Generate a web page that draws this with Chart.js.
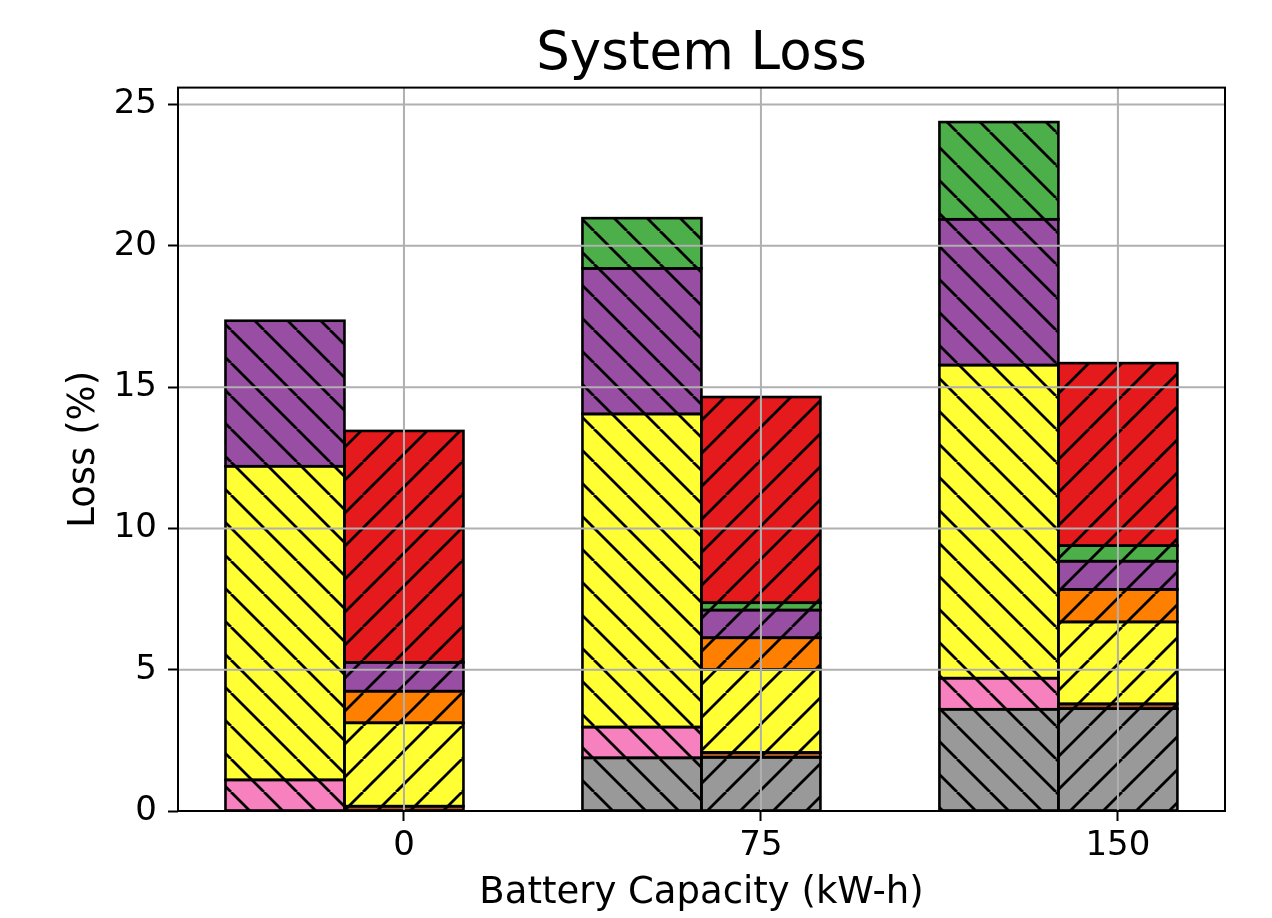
<!DOCTYPE html>
<html>
<head>
<meta charset="utf-8">
<title>System Loss</title>
<script src="https://cdn.jsdelivr.net/npm/chart.js@4/dist/chart.umd.min.js"></script>
<style>
  html, body { margin: 0; padding: 0; background: #fff; }
  canvas { display: block; }
</style>
</head>
<body>
<canvas id="lossChart" width="1272" height="918"></canvas>
<script>
// battery capacities on the x axis
const categories = ['0', '75', '150'];
const yTicks = [0, 5, 10, 15, 20, 25];

// left stack of each group (hatch "\")
const leftGray   = [0.00, 1.88, 3.60];
const leftPink   = [1.10, 1.09, 1.10];
const leftYellow = [11.10, 11.08, 11.08];
const leftPurple = [5.15, 5.15, 5.16];
const leftGreen  = [0.00, 1.78, 3.44];

// right stack of each group (hatch "/")
const rightGray   = [0.00, 1.90, 3.62];
const rightBrown  = [0.17, 0.17, 0.17];
const rightYellow = [2.95, 2.94, 2.90];
const rightOrange = [1.12, 1.12, 1.15];
const rightPurple = [1.02, 0.98, 1.00];
const rightGreen  = [0.00, 0.26, 0.55];
const rightRed    = [8.19, 7.28, 6.46];

const FONT = "'DejaVu Sans', sans-serif";

// matplotlib-like hatch fill
function hatch(color, dir) {
  const s = 33;
  const c = document.createElement('canvas');
  c.width = s; c.height = s;
  const g = c.getContext('2d');
  g.fillStyle = color;
  g.fillRect(0, 0, s, s);
  g.strokeStyle = '#000';
  g.lineWidth = 2.8;
  g.beginPath();
  for (let k = -1; k <= 1; k++) {
    if (dir === '/') { g.moveTo(k * s, s); g.lineTo(k * s + s, 0); }
    else { g.moveTo(k * s, 0); g.lineTo(k * s + s, s); }
  }
  g.stroke();
  return g.createPattern(c, 'repeat');
}

// group centre sits half a bar left of the tick so the right bar is centred on it
const barWidth = 1 / 3;
function points(values) {
  return values.map((v, i) => ({ x: i - barWidth / 2, y: v }));
}

function ds(label, values, color, stack) {
  return {
    label,
    data: points(values),
    stack,
    backgroundColor: hatch(color, stack === 'left' ? '\\' : '/'),
    borderWidth: 0,
    inflateAmount: 0
  };
}

const datasets = [
  ds('Gray', leftGray, '#999999', 'left'),
  ds('Pink', leftPink, '#f781bf', 'left'),
  ds('Yellow', leftYellow, '#ffff33', 'left'),
  ds('Purple', leftPurple, '#984ea3', 'left'),
  ds('Green', leftGreen, '#4daf4a', 'left'),
  ds('Gray', rightGray, '#999999', 'right'),
  ds('Brown', rightBrown, '#a65628', 'right'),
  ds('Yellow', rightYellow, '#ffff33', 'right'),
  ds('Orange', rightOrange, '#ff7f00', 'right'),
  ds('Purple', rightPurple, '#984ea3', 'right'),
  ds('Green', rightGreen, '#4daf4a', 'right'),
  ds('Red', rightRed, '#e41a1c', 'right')
];

// bar edges centred on the bar outline, grid on top, then the frame
const overlay = {
  id: 'overlay',
  afterDatasetsDraw(chart) {
    const { ctx, chartArea: a, scales: { x, y } } = chart;
    ctx.save();
    ctx.strokeStyle = '#000';
    ctx.lineWidth = 2.6;
    ctx.lineJoin = 'miter';
    chart.data.datasets.forEach((d, i) => {
      chart.getDatasetMeta(i).data.forEach(bar => {
        const p = bar.getProps(['x', 'y', 'base', 'width']);
        const h = Math.abs(p.base - p.y);
        if (h < 0.5) return;
        ctx.strokeRect(p.x - p.width / 2, Math.min(p.y, p.base), p.width, h);
      });
    });

    ctx.strokeStyle = '#b0b0b0';
    ctx.lineWidth = 2;
    ctx.beginPath();
    x.ticks.forEach(t => {
      const px = x.getPixelForValue(t.value);
      ctx.moveTo(px, a.top); ctx.lineTo(px, a.bottom);
    });
    y.ticks.forEach(t => {
      const py = y.getPixelForValue(t.value);
      ctx.moveTo(a.left, py); ctx.lineTo(a.right, py);
    });
    ctx.stroke();

    ctx.strokeStyle = '#000';
    ctx.lineWidth = 2;
    ctx.strokeRect(a.left, a.top, a.right - a.left, a.bottom - a.top);
    ctx.restore();
  }
};

new Chart(document.getElementById('lossChart'), {
  type: 'bar',
  data: { datasets },
  plugins: [overlay],
  options: {
    responsive: false,
    devicePixelRatio: 1,
    animation: false,
    categoryPercentage: 2 / 3,
    barPercentage: 1,
    layout: { padding: { left: 0, right: 47, top: 0, bottom: 0 } },
    plugins: {
      legend: { display: false },
      tooltip: { enabled: false },
      title: {
        display: true,
        text: 'System Loss',
        fullSize: false,
        color: '#000',
        font: { family: FONT, size: 53, weight: 'normal' },
        padding: { top: 23, bottom: 1 }
      }
    },
    scales: {
      x: {
        type: 'linear',
        min: -0.633,
        max: 2.3,
        offset: false,
        stacked: true,
        afterBuildTicks: s => { s.ticks = categories.map((c, i) => ({ value: i })); },
        afterFit: s => { s.height = 107; },
        grid: {
          offset: false,
          drawOnChartArea: false,
          tickLength: 10,
          tickWidth: 2,
          tickColor: '#000'
        },
        border: { display: false },
        ticks: {
          color: '#000',
          padding: 5,
          maxRotation: 0,
          font: { family: FONT, size: 34 },
          callback: (v, i) => categories[i]
        },
        title: {
          display: true,
          text: 'Battery Capacity (kW-h)',
          color: '#000',
          font: { family: FONT, size: 37 },
          padding: { top: 0, bottom: 2 }
        }
      },
      y: {
        min: 0,
        max: 25.6,
        stacked: true,
        afterBuildTicks: s => { s.ticks = yTicks.map(v => ({ value: v })); },
        afterFit: s => { s.width = 178; },
        grid: {
          drawOnChartArea: false,
          tickLength: 10,
          tickWidth: 2,
          tickColor: '#000'
        },
        border: { display: false },
        ticks: {
          color: '#000',
          padding: 11,
          font: { family: FONT, size: 34 }
        },
        title: {
          display: true,
          text: 'Loss (%)',
          color: '#000',
          font: { family: FONT, size: 37 },
          padding: { top: 62, bottom: 0 }
        }
      }
    }
  }
});
</script>
</body>
</html>
